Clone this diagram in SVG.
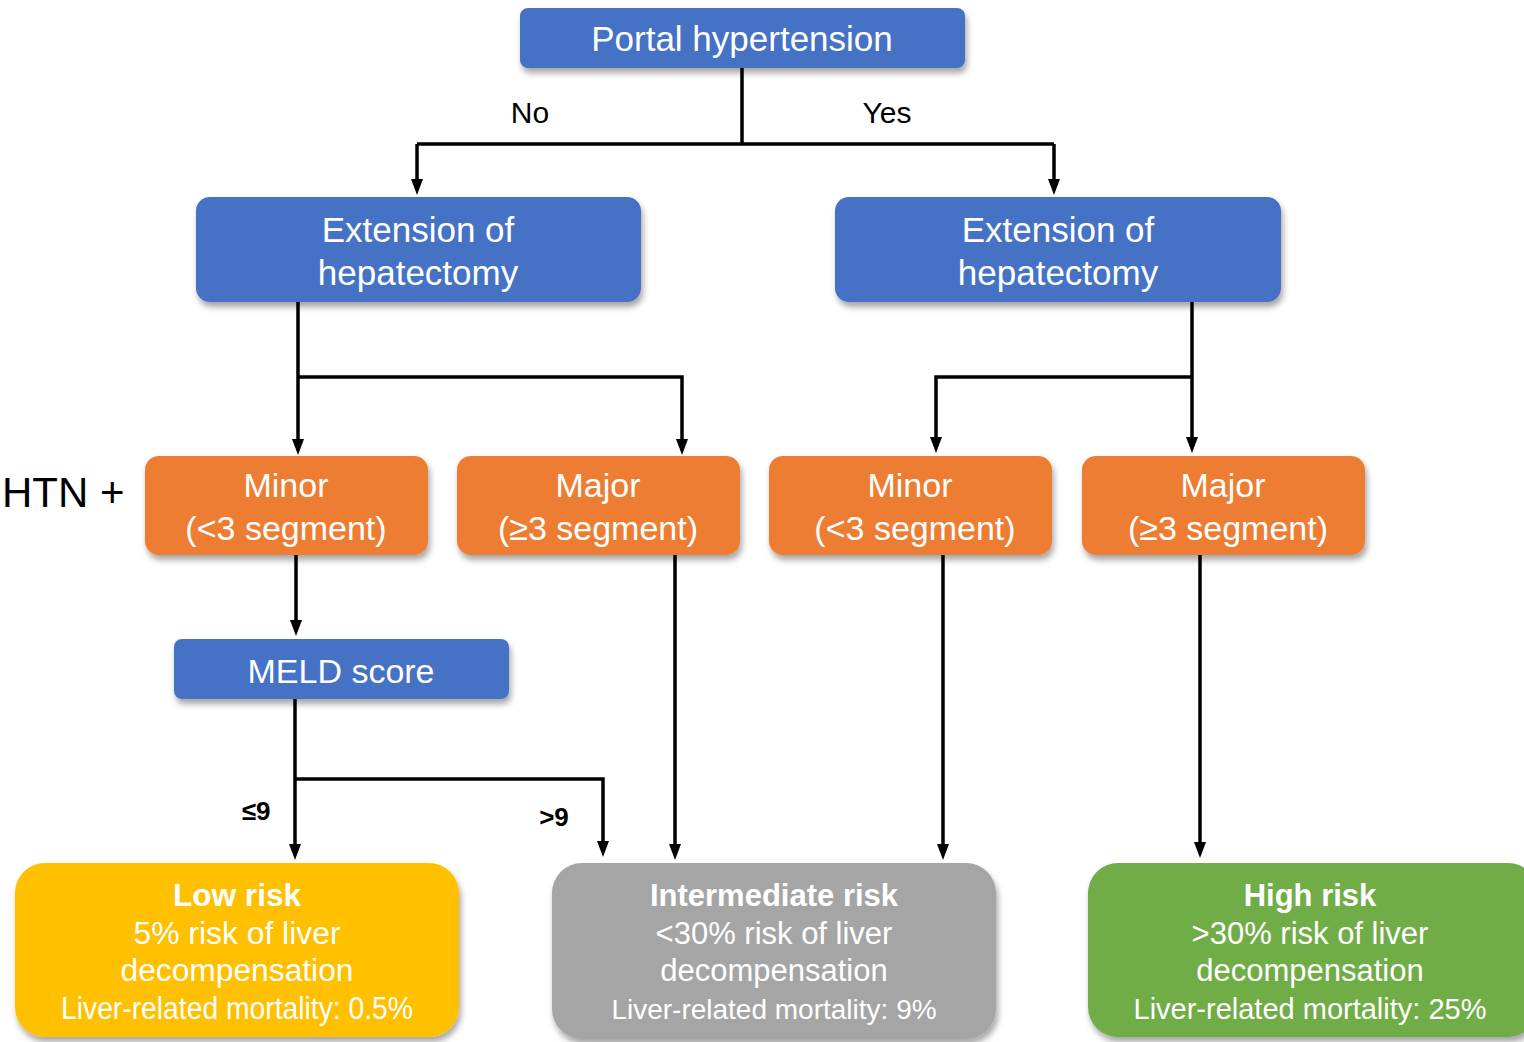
<svg xmlns="http://www.w3.org/2000/svg" width="1524" height="1042" viewBox="0 0 1524 1042">
<style>
.t{font-family:"Liberation Sans",Arial,sans-serif;fill:#fff;text-anchor:middle}
.k{font-family:"Liberation Sans",Arial,sans-serif;fill:#000}
.c{fill:none;stroke:#000;stroke-width:3.5}
.blue{fill:#4472C4}
.orange{fill:#ED7D31}
</style>
<defs>
<filter id="sh" x="-10%" y="-10%" width="120%" height="130%">
<feDropShadow dx="2" dy="5" stdDeviation="3" flood-color="#000" flood-opacity="0.35"/>
</filter>
<marker id="ah" markerWidth="16" markerHeight="12" refX="8" refY="6" orient="auto" markerUnits="userSpaceOnUse" viewBox="0 0 16 12">
<path d="M0,0 L16,6 L0,12 Z" fill="#000"/>
</marker>
</defs>
<g id="connectors">
<path class="c" d="M742,68 V144"/>
<path class="c" d="M417,144 H1054"/>
<path class="c" d="M417,144 V187" marker-end="url(#ah)"/>
<path class="c" d="M1054,144 V187" marker-end="url(#ah)"/>
<path class="c" d="M298,300 V447" marker-end="url(#ah)"/>
<path class="c" d="M298,377 H682 V447" marker-end="url(#ah)"/>
<path class="c" d="M1192,300 V445" marker-end="url(#ah)"/>
<path class="c" d="M1192,377 H936 V445" marker-end="url(#ah)"/>
<path class="c" d="M296,555 V628" marker-end="url(#ah)"/>
<path class="c" d="M295,699 V852" marker-end="url(#ah)"/>
<path class="c" d="M295,779 H603 V849" marker-end="url(#ah)"/>
<path class="c" d="M675,555 V852" marker-end="url(#ah)"/>
<path class="c" d="M943,555 V852" marker-end="url(#ah)"/>
<path class="c" d="M1200,555 V850" marker-end="url(#ah)"/>
<text class="k" x="530" y="123" font-size="30" text-anchor="middle">No</text>
<text class="k" x="887" y="123" font-size="30" text-anchor="middle">Yes</text>
<text class="k" x="256" y="820" font-size="26" font-weight="bold" text-anchor="middle">≤9</text>
<text class="k" x="554" y="826" font-size="26" font-weight="bold" text-anchor="middle">&gt;9</text>
</g>
<text id="htn" class="k" x="2" y="507" font-size="42">HTN +</text>
<g id="portal">
<rect class="blue" x="520" y="8" width="445" height="60" rx="8" filter="url(#sh)"/>
<text class="t" x="742" y="51" font-size="35">Portal hypertension</text>
</g>
<g id="ext-left">
<rect class="blue" x="196" y="197" width="445" height="105" rx="14" filter="url(#sh)"/>
<text class="t" x="418" y="242" font-size="35">Extension of</text>
<text class="t" x="418" y="285" font-size="35">hepatectomy</text>
</g>
<g id="ext-right">
<rect class="blue" x="835" y="197" width="446" height="105" rx="14" filter="url(#sh)"/>
<text class="t" x="1058" y="242" font-size="35">Extension of</text>
<text class="t" x="1058" y="285" font-size="35">hepatectomy</text>
</g>
<g id="minor-left">
<rect class="orange" x="145" y="456" width="283" height="99" rx="14" filter="url(#sh)"/>
<text class="t" x="286" y="497" font-size="34">Minor</text>
<text class="t" x="286" y="540" font-size="34">(&lt;3 segment)</text>
</g>
<g id="major-left">
<rect class="orange" x="457" y="456" width="283" height="99" rx="14" filter="url(#sh)"/>
<text class="t" x="598" y="497" font-size="34">Major</text>
<text class="t" x="598" y="540" font-size="34">(≥3 segment)</text>
</g>
<g id="minor-right">
<rect class="orange" x="769" y="456" width="283" height="99" rx="14" filter="url(#sh)"/>
<text class="t" x="910" y="497" font-size="34">Minor</text>
<text class="t" x="915" y="540" font-size="34">(&lt;3 segment)</text>
</g>
<g id="major-right">
<rect class="orange" x="1082" y="456" width="283" height="99" rx="14" filter="url(#sh)"/>
<text class="t" x="1223" y="497" font-size="34">Major</text>
<text class="t" x="1228" y="540" font-size="34">(≥3 segment)</text>
</g>
<g id="meld">
<rect class="blue" x="174" y="639" width="335" height="60" rx="8" filter="url(#sh)"/>
<text class="t" x="341" y="683" font-size="34">MELD score</text>
</g>
<g id="low">
<rect x="15" y="863" width="444" height="174" rx="30" fill="#FFC000" filter="url(#sh)"/>
<text class="t" x="237" y="906" font-size="31" font-weight="bold" textLength="128" lengthAdjust="spacingAndGlyphs">Low risk</text>
<text class="t" x="237" y="944" font-size="31" textLength="207" lengthAdjust="spacingAndGlyphs">5% risk of liver</text>
<text class="t" x="237" y="981" font-size="31" textLength="233" lengthAdjust="spacingAndGlyphs">decompensation</text>
<text class="t" x="237" y="1019" font-size="31" textLength="352" lengthAdjust="spacingAndGlyphs">Liver-related mortality: 0.5%</text>
</g>
<g id="intermediate">
<rect x="552" y="863" width="444" height="176" rx="30" fill="#A5A5A5" filter="url(#sh)"/>
<text class="t" x="774" y="906" font-size="31" font-weight="bold">Intermediate risk</text>
<text class="t" x="774" y="944" font-size="31">&lt;30% risk of liver</text>
<text class="t" x="774" y="981" font-size="31">decompensation</text>
<text class="t" x="774" y="1019" font-size="28">Liver-related mortality: 9%</text>
</g>
<g id="high">
<rect x="1088" y="863" width="450" height="174" rx="30" fill="#70AD47" filter="url(#sh)"/>
<text class="t" x="1310" y="906" font-size="31" font-weight="bold">High risk</text>
<text class="t" x="1310" y="944" font-size="31">&gt;30% risk of liver</text>
<text class="t" x="1310" y="981" font-size="31">decompensation</text>
<text class="t" x="1310" y="1019" font-size="29">Liver-related mortality: 25%</text>
</g>
</svg>
